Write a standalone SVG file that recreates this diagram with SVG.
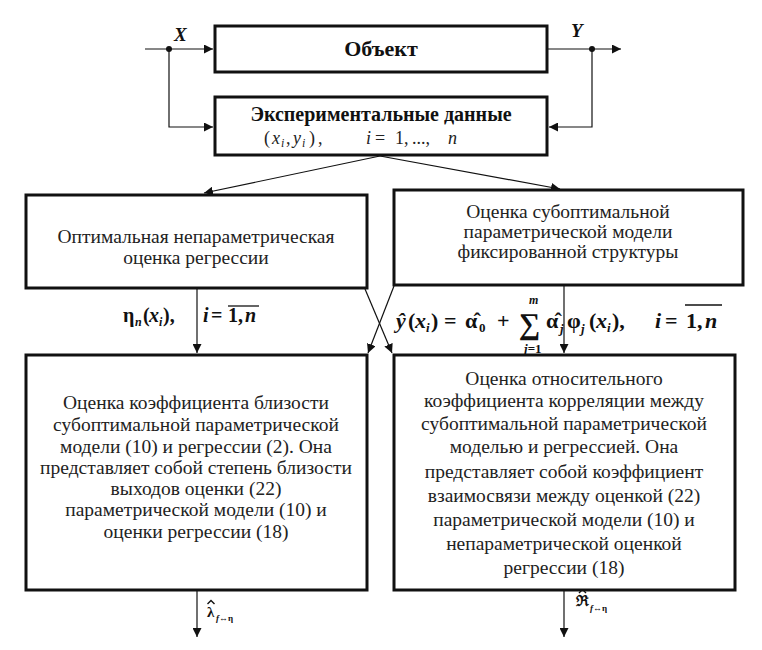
<svg xmlns="http://www.w3.org/2000/svg" width="762" height="650" viewBox="0 0 762 650">
<defs>
<marker id="ah" viewBox="0 0 10 10" refX="10" refY="5" markerWidth="9" markerHeight="9" markerUnits="userSpaceOnUse" orient="auto">
<path d="M0,0 L10,5 L0,10 Z" fill="#111"/>
</marker>
<style>
.box{fill:#fff;stroke:#111;stroke-width:3}
.ln{fill:none;stroke:#111;stroke-width:1.2}
.hat{fill:none;stroke:#111;stroke-width:1.4}
text{font-family:'Liberation Serif','DejaVu Serif',serif}
.t{font-size:19.5px;fill:#222;text-anchor:middle}
.b{font-weight:bold;fill:#111}
.bi{font-weight:bold;font-style:italic;fill:#111}
.i{font-style:italic;fill:#222}
.r{fill:#222}
</style>
</defs>
<rect width="762" height="650" fill="#fff"/>

<g id="connectors">
<line class="ln" x1="145" y1="49" x2="213" y2="49" marker-end="url(#ah)"/>
<polyline class="ln" points="169,49 169,127 213,127" marker-end="url(#ah)"/>
<line class="ln" x1="547" y1="49" x2="621" y2="49" marker-end="url(#ah)"/>
<polyline class="ln" points="592,49 592,127 549,127" marker-end="url(#ah)"/>
<circle cx="169" cy="49" r="3" fill="#111"/>
<circle cx="592" cy="49" r="3" fill="#111"/>
<path class="ln" d="M380,156 Q370,158 204,193" marker-end="url(#ah)"/>
<path class="ln" d="M380,156 Q390,158 560,189" marker-end="url(#ah)"/>
<line class="ln" x1="197" y1="288" x2="197" y2="353" marker-end="url(#ah)"/>
<line class="ln" x1="564" y1="285" x2="564" y2="353" marker-end="url(#ah)"/>
<line class="ln" x1="365" y1="289" x2="392" y2="353" marker-end="url(#ah)"/>
<line class="ln" x1="394" y1="286" x2="368" y2="353" marker-end="url(#ah)"/>
<line class="ln" x1="197" y1="590" x2="197" y2="637" marker-end="url(#ah)"/>
<line class="ln" x1="564" y1="590" x2="564" y2="637" marker-end="url(#ah)"/>
</g>

<g id="labels">
<text class="bi" x="174" y="41" font-size="19">X</text>
<text class="bi" x="571" y="37" font-size="19">Y</text>

<text class="b" x="123" y="322" font-size="20">η</text>
<text class="bi" x="135" y="326" font-size="12">n</text>
<text class="b" x="143" y="322" font-size="20">(</text>
<text class="bi" x="149" y="322" font-size="20">x</text>
<text class="bi" x="159" y="326" font-size="12">i</text>
<text class="b" x="163" y="322" font-size="20">),</text>
<text class="bi" x="203" y="322" font-size="20">i</text>
<text class="b" x="211" y="322" font-size="20">=</text>
<text class="b" x="228" y="322" font-size="20">1</text>
<text class="b" x="238" y="322" font-size="20">,</text>
<text class="bi" x="245" y="322" font-size="20">n</text>
<line x1="228" y1="306" x2="259" y2="306" stroke="#111" stroke-width="1.3"/>

<text class="bi" x="396" y="328" font-size="22">ŷ</text>
<text class="b" x="408" y="328" font-size="22">(</text>
<text class="bi" x="415" y="328" font-size="22">x</text>
<text class="bi" x="426" y="332" font-size="13">i</text>
<text class="b" x="431" y="328" font-size="22">)</text>
<text class="b" x="444" y="328" font-size="22">=</text>
<text class="b" x="465" y="328" font-size="22">α&#x302;</text>
<text class="b" x="479" y="332" font-size="13">0</text>
<text class="b" x="497" y="328" font-size="22">+</text>
<text class="b" x="519" y="334" font-size="30">∑</text>
<text class="bi" x="529" y="304" font-size="12">m</text>
<text class="bi" x="524" y="353" font-size="13">j<tspan font-style="normal">=1</tspan></text>
<text class="b" x="546" y="328" font-size="22">α&#x302;</text>
<text class="bi" x="560" y="333" font-size="13">j</text>
<text class="b" x="567" y="328" font-size="22">φ</text>
<text class="bi" x="581" y="333" font-size="13">j</text>
<text class="b" x="589" y="328" font-size="22">(</text>
<text class="bi" x="596" y="328" font-size="22">x</text>
<text class="bi" x="607" y="332" font-size="13">i</text>
<text class="b" x="612" y="328" font-size="22">),</text>
<text class="bi" x="655" y="328" font-size="22">i</text>
<text class="b" x="665" y="328" font-size="22">=</text>
<text class="b" x="686" y="328" font-size="22">1</text>
<text class="b" x="697" y="328" font-size="22">,</text>
<text class="bi" x="705" y="328" font-size="22">n</text>
<line x1="685" y1="305" x2="722" y2="305" stroke="#111" stroke-width="1.3"/>

<text class="b" x="207" y="617" font-size="15">λ<tspan x="216" y="621" font-size="9" font-style="italic">f</tspan><tspan font-size="9">↔η</tspan></text>
<polyline class="hat" points="207.5,604 211,600.5 214.5,604"/>
<text class="b" x="576" y="606" font-size="15">ℜ<tspan x="590" y="611" font-size="9" font-style="italic">f</tspan><tspan font-size="9">↔η</tspan></text>
<polyline class="hat" points="579,593 582.5,589.5 586,593"/>
</g>

<g id="object">
<rect class="box" x="215" y="26" width="332" height="46"/>
<text class="b" x="381" y="56" font-size="22" text-anchor="middle">Объект</text>
</g>

<g id="data">
<rect class="box" x="215" y="97" width="332" height="58"/>
<text class="b" x="381" y="121" font-size="20" text-anchor="middle">Экспериментальные данные</text>
<text class="r" x="264" y="144" font-size="18">(</text>
<text class="i" x="272" y="144" font-size="18">x</text>
<text class="i" x="281" y="147" font-size="12">i</text>
<text class="r" x="286" y="144" font-size="18">,</text>
<text class="i" x="293" y="144" font-size="18">y</text>
<text class="i" x="302" y="147" font-size="12">i</text>
<text class="r" x="309" y="144" font-size="18">)</text>
<text class="r" x="318" y="144" font-size="18">,</text>
<text class="i" x="366" y="144" font-size="18">i</text>
<text class="r" x="375" y="144" font-size="18">=</text>
<text class="r" x="395" y="144" font-size="18">1,</text>
<text class="r" x="412" y="144" font-size="18">...,</text>
<text class="i" x="448" y="144" font-size="18">n</text>
</g>

<g id="nonparam">
<rect class="box" x="26" y="195" width="341" height="93"/>
<text class="t" x="196" y="243">Оптимальная непараметрическая</text>
<text class="t" x="196" y="264">оценка регрессии</text>
</g>

<g id="param">
<rect class="box" x="394" y="190" width="349" height="95"/>
<text class="t" x="568" y="218">Оценка субоптимальной</text>
<text class="t" x="568" y="238">параметрической модели</text>
<text class="t" x="568" y="258">фиксированной структуры</text>
</g>

<g id="closeness">
<rect class="box" x="26" y="355" width="341" height="235"/>
<text class="t" x="196" y="409">Оценка коэффициента близости</text>
<text class="t" x="196" y="431">субоптимальной параметрической</text>
<text class="t" x="196" y="453">модели (10)  и регрессии (2). Она</text>
<text class="t" x="196" y="474">представляет собой степень близости</text>
<text class="t" x="196" y="495">выходов оценки (22)</text>
<text class="t" x="196" y="516">параметрической модели  (10) и</text>
<text class="t" x="196" y="538">оценки регрессии (18)</text>
</g>

<g id="correlation">
<rect class="box" x="394" y="355" width="341" height="235"/>
<text class="t" x="564" y="385">Оценка относительного</text>
<text class="t" x="564" y="407">коэффициента корреляции между</text>
<text class="t" x="564" y="430">субоптимальной параметрической</text>
<text class="t" x="564" y="453">моделью и регрессией. Она</text>
<text class="t" x="564" y="478">представляет собой коэффициент</text>
<text class="t" x="564" y="502">взаимосвязи между оценкой (22)</text>
<text class="t" x="564" y="526">параметрической модели (10)  и</text>
<text class="t" x="564" y="550">непараметрической оценкой</text>
<text class="t" x="564" y="574">регрессии (18)</text>
</g>
</svg>
